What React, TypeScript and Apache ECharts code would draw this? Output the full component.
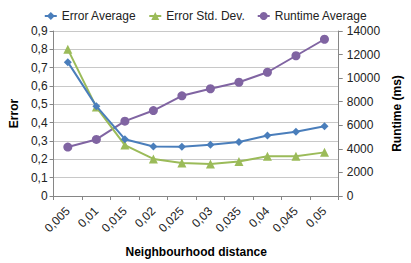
import React, { useEffect, useRef } from "react";
import * as echarts from "echarts";

const categories = ["0,005", "0,01", "0,015", "0,02", "0,025", "0,03", "0,035", "0,04", "0,045", "0,05"];
const errorAverage = [0.73, 0.49, 0.31, 0.27, 0.268, 0.28, 0.295, 0.33, 0.35, 0.38];
const errorStdDev = [0.8, 0.485, 0.278, 0.202, 0.18, 0.175, 0.188, 0.217, 0.217, 0.238];
const runtimeAverage = [4150, 4800, 6350, 7250, 8500, 9100, 9650, 10500, 11900, 13300];

const FONT = "Liberation Sans, Arial, sans-serif";

export default function App() {
  const ref = useRef<HTMLDivElement>(null);
  useEffect(() => {
    if (!ref.current) return;
    const chart = echarts.init(ref.current, undefined, { renderer: "svg" });
    chart.setOption({
      animation: false,
      backgroundColor: "#ffffff",
      textStyle: { fontFamily: FONT },
      legend: {
        top: 5,
        left: "center",
        itemWidth: 12,
        itemHeight: 10,
        itemGap: 12,
        textStyle: { fontSize: 12, color: "#222", fontFamily: FONT },
        data: ["Error Average", "Error Std. Dev.", "Runtime Average"],
      },
      grid: { left: 53, right: 71, top: 31, bottom: 66, containLabel: false },
      xAxis: {
        type: "category",
        data: categories,
        boundaryGap: true,
        name: "Neighbourhood distance",
        nameLocation: "middle",
        nameGap: 50,
        nameTextStyle: { fontSize: 12, fontWeight: "bold", color: "#000", fontFamily: FONT },
        axisLine: { lineStyle: { color: "#868686" } },
        axisTick: { show: true, interval: 0, alignWithLabel: false, length: 4, lineStyle: { color: "#868686" } },
        axisLabel: { rotate: 45, fontSize: 12, color: "#222", margin: 13, interval: 0, fontFamily: FONT },
        splitLine: { show: false },
      },
      yAxis: [
        {
          type: "value",
          min: 0,
          max: 0.9,
          interval: 0.1,
          name: "Error",
          nameLocation: "middle",
          nameGap: 33,
          nameRotate: 90,
          nameTextStyle: { fontSize: 12, fontWeight: "bold", color: "#000", fontFamily: FONT },
          axisLine: { show: true, lineStyle: { color: "#868686" } },
          axisTick: { show: true, length: 4, lineStyle: { color: "#868686" } },
          axisLabel: {
            fontSize: 12,
            color: "#222",
            margin: 6,
            fontFamily: FONT,
            formatter: (v: number) => (v === 0 ? "0" : v.toFixed(1).replace(".", ",")),
          },
          splitLine: { show: true, lineStyle: { color: "#c8c8c8" } },
        },
        {
          type: "value",
          min: 0,
          max: 14000,
          interval: 2000,
          name: "Runtime (ms)",
          nameLocation: "middle",
          nameGap: 50,
          nameRotate: 90,
          nameTextStyle: { fontSize: 12, fontWeight: "bold", color: "#000", fontFamily: FONT },
          axisLine: { show: true, lineStyle: { color: "#868686" } },
          axisTick: { show: true, length: 4, lineStyle: { color: "#868686" } },
          axisLabel: { fontSize: 12, color: "#222", margin: 8, fontFamily: FONT, formatter: (v: number) => String(v) },
          splitLine: { show: false },
        },
      ],
      series: [
        {
          name: "Error Average",
          type: "line",
          yAxisIndex: 0,
          data: errorAverage,
          symbol: "diamond",
          symbolSize: 8,
          itemStyle: { color: "#4a7ebb" },
          lineStyle: { color: "#4a7ebb", width: 2 },
          z: 3,
        },
        {
          name: "Error Std. Dev.",
          type: "line",
          yAxisIndex: 0,
          data: errorStdDev,
          symbol: "triangle",
          symbolSize: 9,
          itemStyle: { color: "#9bbb59" },
          lineStyle: { color: "#9bbb59", width: 2 },
          z: 2,
        },
        {
          name: "Runtime Average",
          type: "line",
          yAxisIndex: 1,
          data: runtimeAverage,
          symbol: "circle",
          symbolSize: 9,
          itemStyle: { color: "#8064a2" },
          lineStyle: { color: "#8064a2", width: 2 },
          z: 1,
        },
      ],
    });
    return () => chart.dispose();
  }, []);
  return <div ref={ref} style={{ position: "fixed", left: 0, top: 0, width: 411, height: 263 }} />;
}
